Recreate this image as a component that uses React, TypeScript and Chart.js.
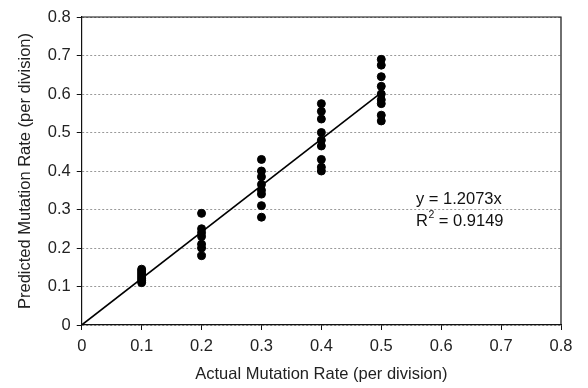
import React, { useEffect, useRef } from "react";
import { Chart, registerables } from "chart.js";

Chart.register(...registerables);

const actualRates = [0.1, 0.2, 0.3, 0.4, 0.5];
const predicted01 = [0.11, 0.115, 0.12, 0.125, 0.13, 0.135, 0.14, 0.145];
const predicted02 = [0.18, 0.2, 0.21, 0.23, 0.24, 0.25, 0.29];
const predicted03 = [0.28, 0.31, 0.34, 0.35, 0.365, 0.385, 0.4, 0.43];
const predicted04 = [0.4, 0.41, 0.43, 0.465, 0.48, 0.5, 0.535, 0.555, 0.575];
const predicted05 = [0.53, 0.545, 0.575, 0.585, 0.6, 0.62, 0.645, 0.675, 0.69];
const predictedGroups = [predicted01, predicted02, predicted03, predicted04, predicted05];
const slope = 1.2073;
const rSquared = "0.9149";
const trendX = [0, 0.5];
const axisTicks = [0, 0.1, 0.2, 0.3, 0.4, 0.5, 0.6, 0.7, 0.8];

const FONT = "'Liberation Sans', Arial, sans-serif";
const FS = 16.5;
const W = 588;
const H = 388;

export default function App() {
  const ref = useRef<HTMLCanvasElement | null>(null);
  useEffect(() => {
    if (!ref.current) return;
    const points: { x: number; y: number }[] = [];
    predictedGroups.forEach((g, i) => g.forEach((v) => points.push({ x: actualRates[i], y: v })));
    const trend = trendX.map((x) => ({ x, y: slope * x }));

    const framePlugin = {
      id: "frame",
      afterDraw(chart: any) {
        const { ctx, chartArea: a, scales } = chart;
        ctx.save();
        ctx.strokeStyle = "#111";
        ctx.lineWidth = 1.2;
        ctx.beginPath();
        ctx.moveTo(a.left, a.top);
        ctx.lineTo(a.right, a.top);
        ctx.lineTo(a.right, a.bottom);
        ctx.stroke();
        ctx.fillStyle = "#111";
        ctx.font = `${FS}px ${FONT}`;
        ctx.textBaseline = "middle";
        const tx = scales.x.getPixelForValue(0.558);
        const ty1 = scales.y.getPixelForValue(0.327);
        const ty2 = scales.y.getPixelForValue(0.27);
        ctx.fillText(`y = ${slope}x`, tx, ty1);
        ctx.fillText("R", tx, ty2);
        const rw = ctx.measureText("R").width;
        ctx.font = `10.5px ${FONT}`;
        ctx.fillText("2", tx + rw + 0.5, ty2 - 6);
        const sw = ctx.measureText("2").width;
        ctx.font = `${FS}px ${FONT}`;
        ctx.fillText(` = ${rSquared}`, tx + rw + sw + 0.5, ty2);
        ctx.restore();
      },
    };

    const tickFmt = (v: any) => String(Math.round(Number(v) * 10) / 10);

    const chart = new Chart(ref.current, {
      type: "scatter",
      data: {
        datasets: [
          {
            label: "points",
            data: points,
            backgroundColor: "#000",
            borderColor: "#000",
            pointRadius: 4,
            pointHoverRadius: 4,
            order: 1,
          },
          {
            label: "trend",
            type: "line",
            data: trend,
            borderColor: "#000",
            borderWidth: 1.6,
            pointRadius: 0,
            showLine: true,
            fill: false,
            order: 2,
          } as any,
        ],
      },
      options: {
        animation: false,
        responsive: false,
        maintainAspectRatio: false,
        layout: { padding: { left: 0, right: 27, top: 17, bottom: 0 } },
        plugins: { legend: { display: false }, tooltip: { enabled: false } },
        scales: {
          x: {
            type: "linear",
            min: 0,
            max: 0.8,
            afterBuildTicks: (axis: any) => {
              axis.ticks = axisTicks.map((v) => ({ value: v }));
            },
            ticks: { color: "#222", font: { family: FONT, size: FS }, padding: 7, callback: tickFmt },
            grid: { drawOnChartArea: false, tickLength: 5, tickColor: "#111", color: "#111" },
            border: { color: "#111", width: 1.2 },
            title: {
              display: true,
              text: "Actual Mutation Rate (per division)",
              color: "#222",
              font: { family: FONT, size: FS },
              padding: { top: 0.4, bottom: 4 },
            },
          },
          y: {
            type: "linear",
            min: 0,
            max: 0.8,
            afterBuildTicks: (axis: any) => {
              axis.ticks = axisTicks.map((v) => ({ value: v }));
            },
            ticks: { color: "#222", font: { family: FONT, size: FS }, padding: 6, callback: tickFmt },
            grid: { tickLength: 5, tickColor: "#111", color: "#999", lineWidth: 1 },
            border: { color: "#111", width: 1.2, dash: [2, 2] },
            title: {
              display: true,
              text: "Predicted Mutation Rate (per division)",
              color: "#222",
              font: { family: FONT, size: FS },
              padding: { top: 15.5, bottom: 6.5 },
            },
          },
        },
      },
      plugins: [framePlugin],
    });
    return () => chart.destroy();
  }, []);
  return (
    <div style={{ position: "absolute", left: 0, top: 0, width: W, height: H, overflow: "hidden", background: "#fff" }}>
      <canvas ref={ref} width={W} height={H} style={{ width: W, height: H, display: "block" }} />
    </div>
  );
}
